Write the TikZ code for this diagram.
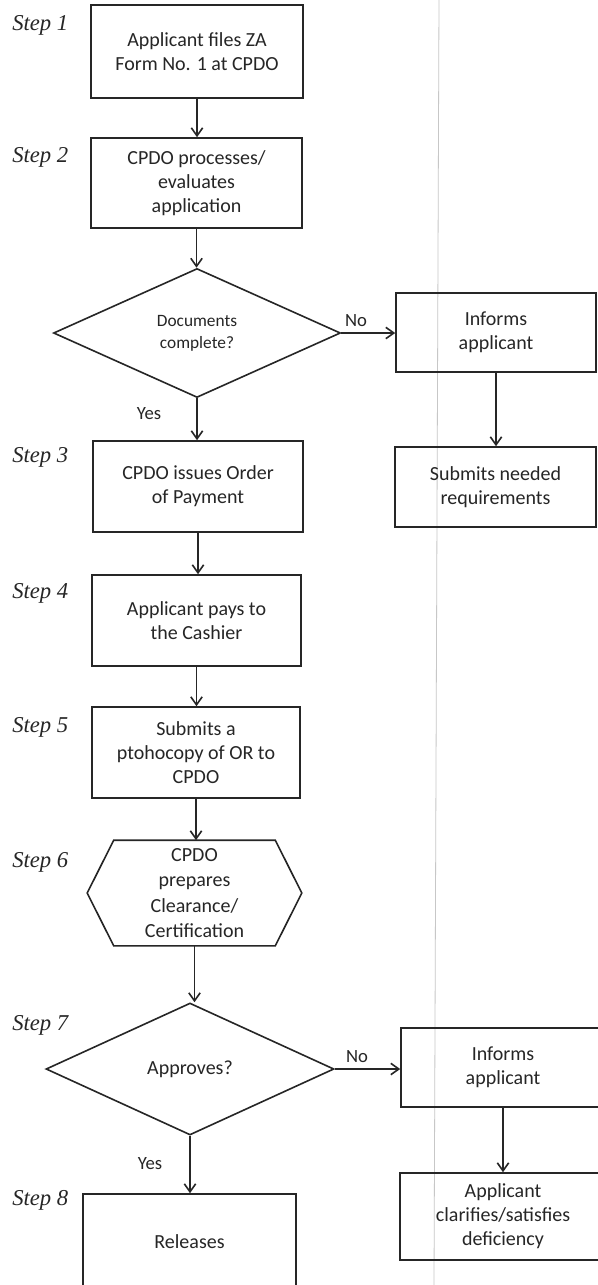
\documentclass[tikz,border=0pt]{standalone}
\usepackage{fontspec}
\setmainfont{Carlito}
\newfontfamily\stepfont{Liberation Serif}
\usetikzlibrary{arrows.meta,shapes.geometric,calc}
\newcommand\pxu{0.75pt}
\colorlet{ink}{black!85}
\begin{document}
\begin{tikzpicture}[x=0.75pt,y=-0.75pt,
  inkline/.style={draw=ink, line width=1.2pt},
  box/.style={inkline, rectangle, align=center, inner sep=2pt, text=ink,
    font=\fontsize{15}{18}\selectfont},
  dec/.style={inkline, diamond, align=center, inner sep=0pt, text=ink,
    font=\fontsize{15}{18}\selectfont},
  arr/.style={inkline, -{Straight Barb[length=6pt,width=8.5pt]}},
  steplabel/.style={anchor=west, text=ink, inner sep=0pt,
    font=\stepfont\itshape\fontsize{17}{20}\selectfont},
  lbl/.style={text=ink, inner sep=0pt, font=\fontsize{14}{17}\selectfont}
]
\useasboundingbox (0,0) rectangle (598,1285);
\clip (0,0) rectangle (598,1285);
\fill[white] (0,0) rectangle (598,1285);
% faint scan line
\draw[black!22, line width=0.6pt] (439,0) -- (434,1285);

% step labels
\node[steplabel] (s1) at (12,25)   {Step 1};
\node[steplabel] (s2) at (12,157)  {Step 2};
\node[steplabel] (s3) at (12,457)  {Step 3};
\node[steplabel] (s4) at (12,593)  {Step 4};
\node[steplabel] (s5) at (12,727)  {Step 5};
\node[steplabel] (s6) at (12,862)  {Step 6};
\node[steplabel] (s7) at (12,1025) {Step 7};
\node[steplabel] (s8) at (12,1200) {Step 8};

% nodes
\node[box, minimum width=212*\pxu, minimum height=93*\pxu] (b1) at (197,51.5)
  {Applicant files ZA\\Form No. 1 at CPDO};
\node[box, minimum width=211*\pxu, minimum height=90*\pxu] (b2) at (196.5,183)
  {CPDO processes/\\evaluates\\application};
\node[dec, minimum width=287*\pxu, minimum height=129*\pxu,
  font=\fontsize{13}{16.5}\selectfont] (d1) at (197,333)
  {Documents\\complete?};
\node[box, minimum width=200*\pxu, minimum height=79*\pxu] (i1) at (496,332.5)
  {Informs\\applicant};
\node[box, minimum width=201*\pxu, minimum height=80*\pxu] (q1) at (495.5,487)
  {Submits needed\\requirements};
\node[box, minimum width=210*\pxu, minimum height=91*\pxu] (b3) at (198,486.5)
  {CPDO issues Order\\of Payment};
\node[box, minimum width=209*\pxu, minimum height=91*\pxu] (b4) at (196.5,620.5)
  {Applicant pays to\\the Cashier};
\node[box, minimum width=208*\pxu, minimum height=91*\pxu] (b5) at (196,752.5)
  {Submits a\\ptohocopy of OR to\\CPDO};
\node[box, draw=none, minimum width=160*\pxu, minimum height=104*\pxu,
  font=\fontsize{15}{19}\selectfont] (hx) at (194.5,893)
  {CPDO\\prepares\\Clearance/\\Certification};
\draw[inkline, line join=miter] (hx.north west) -- (hx.north east)
  -- ($(hx.east)+(26.5,0)$) -- (hx.south east) -- (hx.south west)
  -- ($(hx.west)+(-26.5,0)$) -- cycle;
\node[dec, minimum width=288*\pxu, minimum height=132*\pxu] (d2) at (190,1069)
  {Approves?};
\node[box, minimum width=204*\pxu, minimum height=79*\pxu] (i2) at (503,1067.5)
  {Informs\\applicant};
\node[box, minimum width=206*\pxu, minimum height=87*\pxu] (c2) at (503,1216.5)
  {Applicant\\clarifies/satisfies\\deficiency};
\node[box, minimum width=213*\pxu, minimum height=96*\pxu] (r1) at (189.5,1242)
  {Releases};

% connectors
\draw[arr] (b1.south) -- (b1.south |- b2.north);
\draw[arr] (b2.south) -- (b2.south |- d1.north);
\draw[arr] (d1.south) -- (d1.south |- b3.north);
\draw[arr] (d1.east) -- (d1.east -| i1.west);
\draw[arr] (i1.south) -- (i1.south |- q1.north);
\draw[arr] (b3.south) -- (b3.south |- b4.north);
\draw[arr] (b4.south) -- (b4.south |- b5.north);
\draw[arr] (b5.south) -- (b5.south |- hx.north);
\draw[arr] (hx.south) -- (hx.south |- d2.north);
\draw[arr] (d2.south) -- (d2.south |- r1.north);
\draw[arr] (d2.east) -- (d2.east -| i2.west);
\draw[arr] (i2.south) -- (i2.south |- c2.north);

% branch labels
\node[lbl] (no1) at (356,321) {No};
\node[lbl] (yes1) at (149,414) {Yes};
\node[lbl] (no2) at (357,1057) {No};
\node[lbl] (yes2) at (150,1164) {Yes};
\end{tikzpicture}
\end{document}
